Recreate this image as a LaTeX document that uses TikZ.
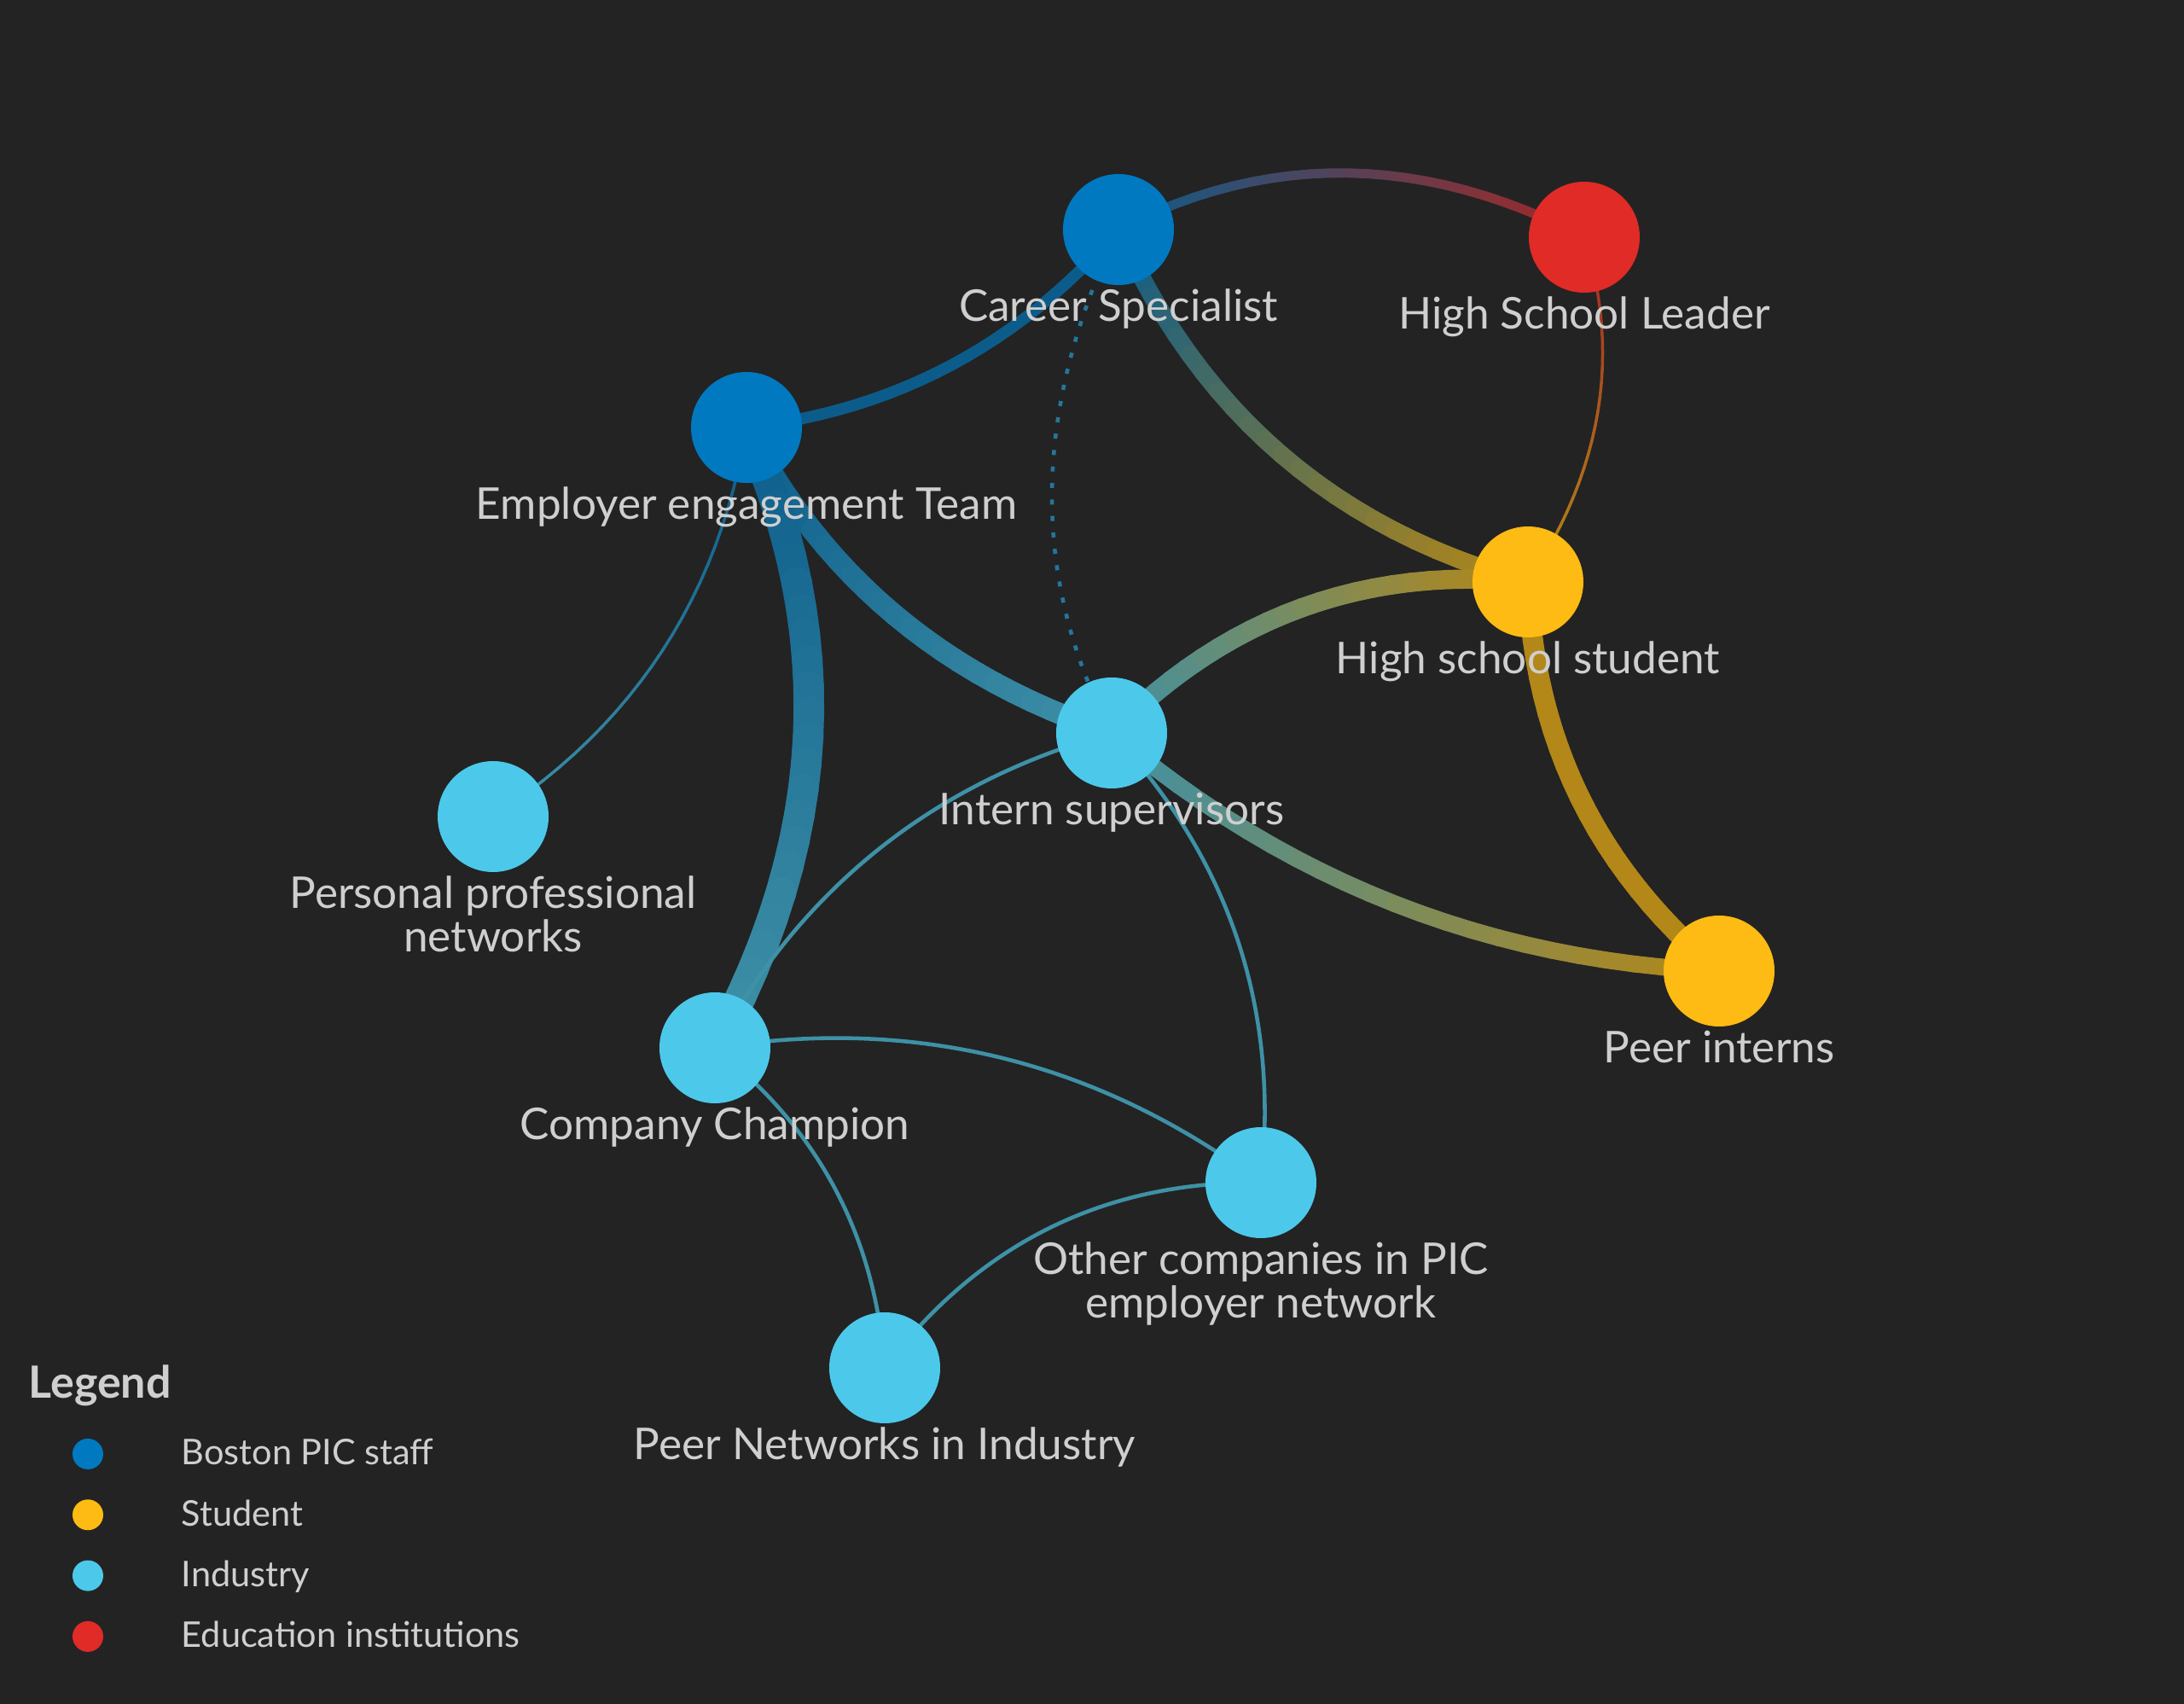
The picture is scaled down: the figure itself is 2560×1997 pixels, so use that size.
\documentclass[tikz,border=0pt]{standalone}
\usepackage{fontspec}
\setmainfont{Lato}
\usetikzlibrary{calc}

\definecolor{bg}{HTML}{232323}
\definecolor{txt}{HTML}{CFCFCF}
\definecolor{staff}{HTML}{0079C1}
\definecolor{student}{HTML}{FDBB13}
\definecolor{industry}{HTML}{4CC9EA}
\definecolor{edu}{HTML}{E02B27}
\colorlet{estaff}{staff!66!bg}
\colorlet{estu}{student!66!bg}
\colorlet{eind}{industry!66!bg}
\colorlet{eedu}{edu!66!bg}

\pgfdeclarelayer{back}
\pgfdeclarelayer{edges}
\pgfsetlayers{back,edges,main}

\tikzset{
  actor/.style={circle, minimum size=13mm, inner sep=0pt},
  lbl/.style={text=txt, font=\fontsize{14.6}{14.4}\selectfont, align=center, inner sep=0pt},
  keytext/.style={text=txt, font=\fontsize{11.8}{13}\selectfont, anchor=base west, inner sep=0pt},
  thin edge/.style={line width=1.3pt, eind},
  every label/.style={label distance=1pt},
}

% quadratic edge from #1 to #3 with control #2, colour #4 -> #5, width #6
\newcommand{\gradedge}[6]{%
  \foreach \i in {1,...,24} {
    \pgfmathsetmacro{\ta}{(\i-1)/24}
    \pgfmathsetmacro{\tb}{\i/24}
    \pgfmathtruncatemacro{\pc}{100-(\i-0.5)*100/24}
    \draw[line width=#6, line cap=round, draw=#4!\pc!#5]
      ($($(#1.center)!\ta!(#2)$)!\ta!($(#2)!\ta!(#3.center)$)$) --
      ($($(#1.center)!\tb!(#2)$)!\tb!($(#2)!\tb!(#3.center)$)$);
  }
}

\begin{document}
\begin{tikzpicture}[x=0.1mm, y=-0.1mm]
  \begin{pgfonlayer}{back}
    \fill[bg] (0,0) rectangle (2560,1997);
  \end{pgfonlayer}

  \node[actor, fill=staff, label={[lbl]below:Career Specialist}] (career) at (1311,269) {};
  \node[actor, fill=edu, label={[lbl]below:High School Leader}] (leader) at (1857,278) {};
  \node[actor, fill=staff, label={[lbl]below:Employer engagement Team}] (eet) at (875,501) {};
  \node[actor, fill=student, label={[lbl]below:High school student}] (student) at (1791,682) {};
  \node[actor, fill=industry, label={[lbl]below:Intern supervisors}] (super) at (1303,859) {};
  \node[actor, fill=industry, label={[lbl]below:Personal professional\\networks}] (personal) at (578,957) {};
  \node[actor, fill=student, label={[lbl]below:Peer interns}] (peers) at (2015,1138) {};
  \node[actor, fill=industry, label={[lbl]below:Company Champion}] (champion) at (838,1228) {};
  \node[actor, fill=industry, label={[lbl]below:Other companies in PIC\\employer network}] (others) at (1478,1386) {};
  \node[actor, fill=industry, label={[lbl]below:Peer Networks in Industry}] (peernet) at (1037,1603) {};

  \begin{pgfonlayer}{edges}
    \gradedge{career}{1576,132}{leader}{estaff}{eedu}{3.1pt}
    \gradedge{eet}{1137,471}{career}{estaff}{estaff}{3.8pt}
    \gradedge{career}{1453,590}{student}{estaff}{estu}{5.9pt}
    \gradedge{leader}{1922,484}{student}{eedu}{estu}{1pt}
    \gradedge{eet}{1009,762}{super}{estaff}{eind}{7.1pt}
    \gradedge{eet}{1038,864}{champion}{estaff}{eind}{10.2pt}
    \gradedge{eet}{827,795}{personal}{estaff}{eind}{1pt}
    \gradedge{super}{1505,654}{student}{eind}{estu}{6.4pt}
    \gradedge{super}{1611,1120}{peers}{eind}{estu}{5.6pt}
    \gradedge{student}{1801,960}{peers}{estu}{estu}{6.8pt}
    \draw[line width=1.3pt, estaff!50!eind, dash pattern=on 1.7pt off 3.8pt]
      (career.center) .. controls (1210,479) and (1207,676) .. (super.center);
    \draw[thin edge] (super.center) .. controls (1096,916) and (941,1039) .. (champion.center);
    \draw[thin edge] (super.center) .. controls (1442,1008) and (1500,1183) .. (others.center);
    \draw[thin edge] (champion.center) .. controls (1073,1191) and (1287,1244) .. (others.center);
    \draw[thin edge] (champion.center) .. controls (960,1324) and (1026,1449) .. (peernet.center);
    \draw[thin edge] (others.center) .. controls (1295,1384) and (1148,1457) .. (peernet.center);
  \end{pgfonlayer}

  % legend
  \node[text=txt, font=\bfseries\fontsize{14.8}{16}\selectfont, anchor=base west, inner sep=0pt] (legend) at (33,1639) {Legend};
  \foreach \c/\t [count=\k] in {staff/Boston PIC staff, student/Student, industry/Industry, edu/Education institutions} {
    \node[circle, fill=\c, minimum size=3.6mm, inner sep=0pt] (key\k) at (103,{1704+71.3*(\k-1)}) {};
    \node[keytext] (keylbl\k) at (212,{1717+71.3*(\k-1)}) {\t};
  }
\end{tikzpicture}
\end{document}
